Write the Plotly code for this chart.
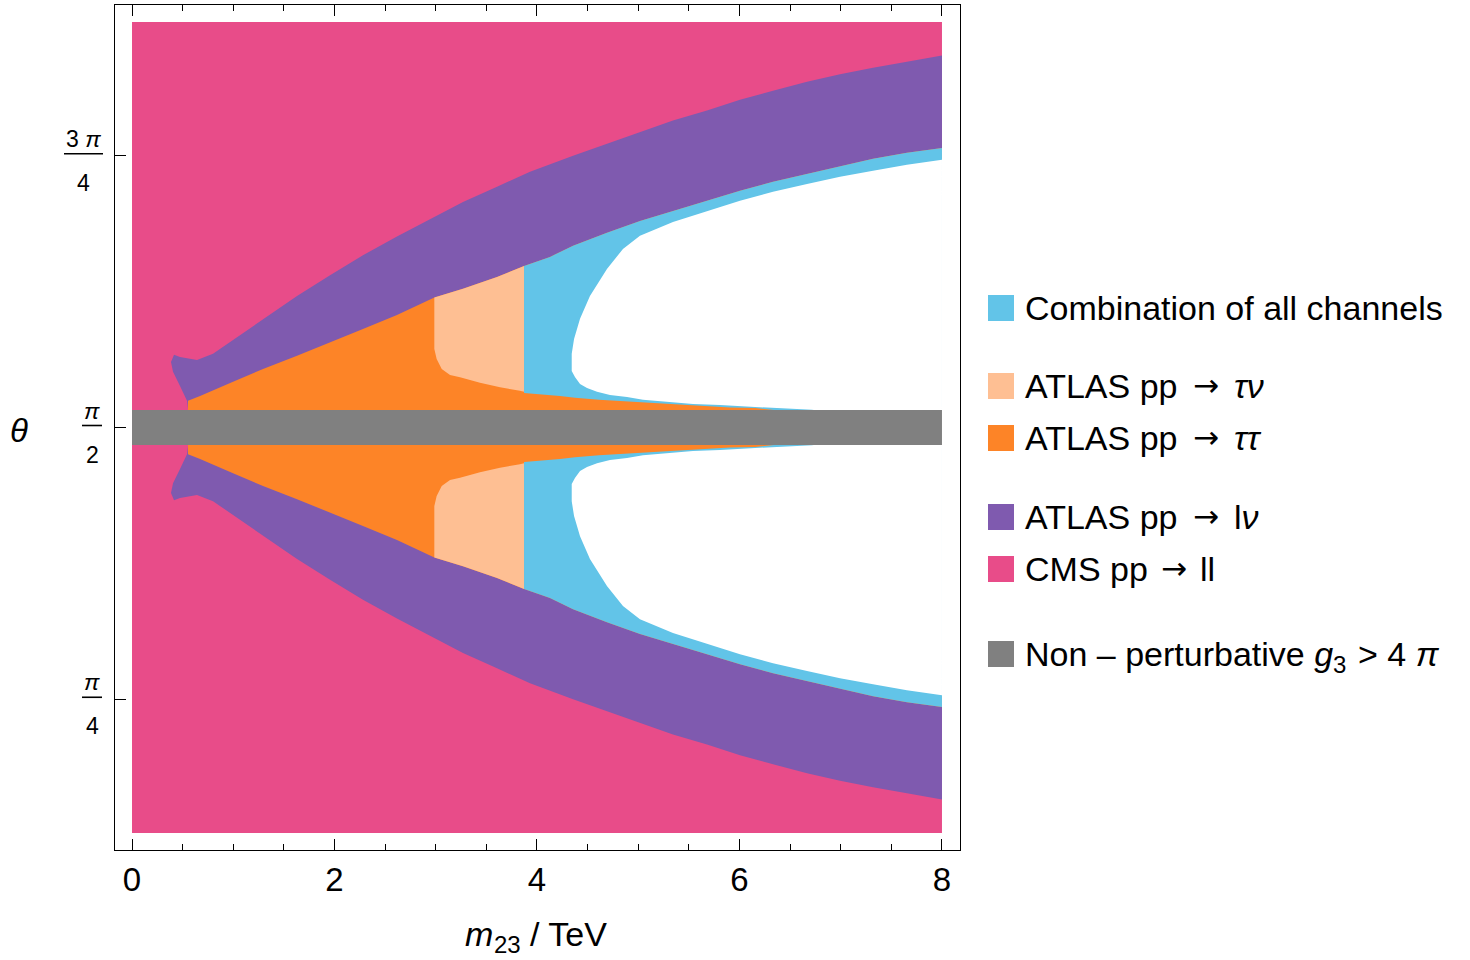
import numpy as np
import plotly.graph_objects as go

# ------------------------------------------------------------------
# Data
# Region boundaries are given for the upper half as offsets d = θ − π/2 (rad);
# the lower half is the mirror image (θ = π/2 − d).
# ------------------------------------------------------------------
X_MIN, X_MAX = 0.0, 8.0            # m23 / TeV range of the scan
THETA_HALF_SPAN = 1.172            # scanned θ range: π/2 ± this
GRAY_HALF_WIDTH = 0.0506           # non-perturbative band: π/2 ± this

# CMS pp -> ll exclusion edge (pink | purple)
CMS_X = [0.553, 0.543, 0.474, 0.405, 0.385, 0.415, 0.474, 0.642, 0.800, 0.968,
         1.294, 1.630, 1.956, 2.281, 2.617, 2.943, 3.269, 3.605, 3.931, 4.356,
         4.691, 5.017, 5.343, 5.679, 6.005, 6.331, 6.667, 6.993, 7.319, 7.654, 8.0]
CMS_D = [0.054, 0.077, 0.120, 0.161, 0.189, 0.210, 0.204, 0.195, 0.213, 0.247,
         0.314, 0.380, 0.440, 0.498, 0.552, 0.603, 0.652, 0.696, 0.739, 0.785,
         0.820, 0.855, 0.887, 0.916, 0.947, 0.973, 0.999, 1.021, 1.040, 1.057, 1.075]

# ATLAS pp -> lν exclusion edge (purple | inner regions)
LNU_X = [0.553, 0.672, 0.998, 1.294, 1.630, 1.956, 2.281, 2.617, 2.986, 3.269,
         3.605, 3.872, 4.128, 4.356, 4.691, 5.017, 5.343, 5.679, 6.005, 6.331,
         6.667, 6.993, 7.319, 7.654, 8.0]
LNU_D = [0.077, 0.091, 0.132, 0.169, 0.207, 0.247, 0.285, 0.325, 0.376, 0.401,
         0.435, 0.467, 0.493, 0.525, 0.563, 0.597, 0.626, 0.655, 0.684, 0.710,
         0.733, 0.756, 0.777, 0.794, 0.808]

# ATLAS pp -> τν exclusion edge (orange | peach)
TAUNU_X = [2.986, 2.986, 3.009, 3.059, 3.141, 3.240, 3.437, 3.635, 3.832, 3.872]
TAUNU_D = [0.376, 0.227, 0.198, 0.169, 0.152, 0.145, 0.129, 0.116, 0.106, 0.103]

# ATLAS pp -> ττ exclusion edge (orange | cyan), beyond the τν reach
TAUTAU_X = [3.872, 4.227, 4.375, 4.612, 4.889, 5.244, 5.659, 5.906, 6.153, 6.301]
TAUTAU_D = [0.100, 0.091, 0.086, 0.080, 0.075, 0.068, 0.062, 0.058, 0.056, 0.051]

# Combination of all channels: edge of the allowed (white) region
COMB_X = [8.0, 7.654, 7.319, 6.993, 6.667, 6.331, 6.005, 5.679, 5.343, 5.017,
          4.849, 4.691, 4.523, 4.425, 4.366, 4.343, 4.343, 4.375, 4.425, 4.494,
          4.593, 4.721, 4.889, 5.047, 5.284, 5.541, 5.807, 6.133, 6.370, 6.716]
COMB_D = [0.774, 0.759, 0.742, 0.725, 0.704, 0.681, 0.655, 0.626, 0.594, 0.554,
          0.516, 0.458, 0.380, 0.314, 0.256, 0.213, 0.163, 0.146, 0.126, 0.114,
          0.103, 0.094, 0.088, 0.080, 0.074, 0.068, 0.065, 0.059, 0.056, 0.051]

X_TICK_VALS = [0, 2, 4, 6, 8]
Y_TICK_VALS = [np.pi / 4, np.pi / 2, 3 * np.pi / 4]
Y_TICK_NUM = ["<i>π</i>", "<i>π</i>", "3 <i>π</i>"]
Y_TICK_DEN = ["4", "2", "4"]

# x title pieces: base, subscript, rest
X_TITLE_PARTS = ["<i>m</i>", "23", "/ TeV"]
Y_TITLE = "<i>θ</i>"

# legend entries: (text before the arrow, text after the arrow); None = no arrow
LEGEND_LEFT = ["Combination of all channels", "ATLAS pp", "ATLAS pp", "ATLAS pp",
               "CMS pp", "Non – perturbative <i>g</i>"]
LEGEND_RIGHT = [None, "<i>τν</i>", "<i>ττ</i>", "l<i>ν</i>", "ll", None]
LEGEND_SUB = [None, None, None, None, None, ("3", "> 4 <i>π</i>")]

# ------------------------------------------------------------------
# Styles / layout
# ------------------------------------------------------------------
C_PINK = "#E84C89"
C_PURPLE = "#7F5AAF"
C_ORANGE = "#FD8427"
C_PEACH = "#FEBF93"
C_CYAN = "#62C4E8"
C_GRAY = "#808080"
LEGEND_COLORS = [C_CYAN, C_PEACH, C_ORANGE, C_PURPLE, C_PINK, C_GRAY]

FONT = "Liberation Sans, Arial, sans-serif"
ARROW_FONT = "DejaVu Sans"
W, H = 1470, 960
ML, MR, MT, MB = 115, 510, 5, 110
PW, PH = W - ML - MR, H - MT - MB

HALF = np.pi / 2
X_RANGE = [-0.168, 8.178]
Y_RANGE = [HALF - 1.221, HALF + 1.221]
PX_PER_RAD = PH / (Y_RANGE[1] - Y_RANGE[0])


def px_x(px):
    return (px - ML) / PW


def px_y(py):
    return (H - MB - py) / PH


def mirrored(xs, ds):
    """upper polygon, gap, lower (mirrored) polygon"""
    xs = list(xs)
    ds = list(ds)
    X = xs + [xs[0]] + [None] + xs + [xs[0]]
    Y = ([HALF + d for d in ds] + [HALF + ds[0]] + [None]
         + [HALF - d for d in ds] + [HALF - ds[0]])
    return X, Y


def lnu_at(x):
    return float(np.interp(x, LNU_X, LNU_D))


fig = go.Figure()


def add_region(xs, ds, color):
    X, Y = mirrored(xs, ds)
    fig.add_trace(go.Scatter(x=X, y=Y, mode="lines", fill="toself",
                             fillcolor=color, line=dict(width=0, color=color),
                             hoverinfo="skip", showlegend=False))


# CMS (pink): whole scanned area
fig.add_trace(go.Scatter(
    x=[X_MIN, X_MAX, X_MAX, X_MIN, X_MIN],
    y=[HALF - THETA_HALF_SPAN, HALF - THETA_HALF_SPAN, HALF + THETA_HALF_SPAN,
       HALF + THETA_HALF_SPAN, HALF - THETA_HALF_SPAN],
    mode="lines", fill="toself", fillcolor=C_PINK, line=dict(width=0, color=C_PINK),
    hoverinfo="skip", showlegend=False))

# purple: inside the CMS edge
add_region(CMS_X + [X_MAX, CMS_X[0]], CMS_D + [0.0, 0.0], C_PURPLE)

# orange: inside the lν edge
add_region(LNU_X + [X_MAX, LNU_X[0]], LNU_D + [0.0, 0.0], C_ORANGE)

# peach: between τν edge and lν edge
x0, x1 = TAUNU_X[0], TAUNU_X[-1]
top_x = [x0] + [x for x in LNU_X if x0 < x < x1] + [x1]
top_d = [lnu_at(x) for x in top_x]
add_region(top_x + TAUNU_X[::-1], top_d + TAUNU_D[::-1], C_PEACH)

# cyan: right of τν reach, above ττ edge
c0 = TAUTAU_X[0]
cx = [c0] + [x for x in LNU_X if x > c0]
cd = [lnu_at(x) for x in cx]
add_region(cx + [X_MAX] + TAUTAU_X[::-1], cd + [0.0] + TAUTAU_D[::-1], C_CYAN)

# white: allowed region
add_region(COMB_X + [X_MAX], COMB_D + [0.0], "#FFFFFF")

# gray: non-perturbative band
fig.add_trace(go.Scatter(
    x=[X_MIN, X_MAX, X_MAX, X_MIN, X_MIN],
    y=[HALF - GRAY_HALF_WIDTH, HALF - GRAY_HALF_WIDTH, HALF + GRAY_HALF_WIDTH,
       HALF + GRAY_HALF_WIDTH, HALF - GRAY_HALF_WIDTH],
    mode="lines", fill="toself", fillcolor=C_GRAY, line=dict(width=0, color=C_GRAY),
    hoverinfo="skip", showlegend=False))

annotations = []
shapes = []


def text_at(text, px, py, size, anchor="left", family=FONT):
    annotations.append(dict(text=text, x=px_x(px), xref="paper", y=px_y(py), yref="paper",
                            xanchor=anchor, yanchor="middle", showarrow=False,
                            font=dict(size=size, family=family, color="black")))


# y tick labels as stacked fractions
frac_centers_px = [92, 92, 83.5]
frac_halfwidths_px = [10, 10, 19.5]
for val, num, den, cx_px, hw in zip(Y_TICK_VALS, Y_TICK_NUM, Y_TICK_DEN,
                                   frac_centers_px, frac_halfwidths_px):
    annotations.append(dict(text=num, x=px_x(cx_px), xref="paper", y=val, yref="y",
                            xanchor="center", yanchor="bottom", yshift=2,
                            showarrow=False, font=dict(size=23, family=FONT, color="black")))
    annotations.append(dict(text=den, x=px_x(cx_px), xref="paper", y=val, yref="y",
                            xanchor="center", yanchor="top", yshift=-12,
                            showarrow=False, font=dict(size=23, family=FONT, color="black")))
    yb = val + 2 / PX_PER_RAD
    shapes.append(dict(type="line", xref="paper", yref="y",
                       x0=px_x(cx_px - hw), x1=px_x(cx_px + hw), y0=yb, y1=yb,
                       line=dict(color="black", width=1.6)))

# axis labels
text_at(Y_TITLE, 19, 430, 33, anchor="center")
text_at(X_TITLE_PARTS[0], 463, 934, 34)
text_at(X_TITLE_PARTS[1], 492, 944, 24)
text_at(X_TITLE_PARTS[2], 528, 934, 34)

# legend (drawn manually)
legend_rows_px = [308, 386, 438, 517, 569, 654]
arrow_center_px = [None, 1206, 1206, 1206, 1174, None]
right_start_px = [None, 1232, 1232, 1232, 1198, None]
for left, right, sub, color, cy, ax_px, rx_px in zip(
        LEGEND_LEFT, LEGEND_RIGHT, LEGEND_SUB, LEGEND_COLORS,
        legend_rows_px, arrow_center_px, right_start_px):
    shapes.append(dict(type="rect", xref="paper", yref="paper",
                       x0=px_x(988), x1=px_x(1014), y0=px_y(cy + 13), y1=px_y(cy - 13),
                       fillcolor=color, line=dict(width=0)))
    text_at(left, 1023, cy, 34)
    if right is not None:
        text_at("→", ax_px, cy - 1, 31, anchor="center", family=ARROW_FONT)
        text_at(right, rx_px, cy, 34)
    if sub is not None:
        text_at(sub[0], 1331, cy + 10, 24)
        text_at(sub[1], 1356, cy, 34)

fig.update_layout(
    width=W, height=H,
    margin=dict(l=ML, r=MR, t=MT, b=MB, pad=0),
    paper_bgcolor="white", plot_bgcolor="white",
    showlegend=False,
    font=dict(family=FONT, color="black"),
    annotations=annotations,
    shapes=shapes,
    xaxis=dict(range=X_RANGE, showgrid=False, zeroline=False,
               showline=True, linecolor="black", linewidth=1.3, mirror="ticks",
               ticks="inside", ticklen=11, tickwidth=1.3, tickcolor="black",
               tickvals=X_TICK_VALS, tickfont=dict(size=33, family=FONT),
               minor=dict(tick0=0, dtick=0.5, ticks="inside", ticklen=6,
                          tickwidth=1, tickcolor="black", showgrid=False)),
    yaxis=dict(range=Y_RANGE, showgrid=False, zeroline=False,
               showline=True, linecolor="black", linewidth=1.3, mirror=True,
               ticks="inside", ticklen=11, tickwidth=1.3, tickcolor="black",
               tickvals=Y_TICK_VALS, showticklabels=False),
)

fig.write_html("out.html", config={"displayModeBar": False},
               post_script="document.body.style.margin='0px';")
